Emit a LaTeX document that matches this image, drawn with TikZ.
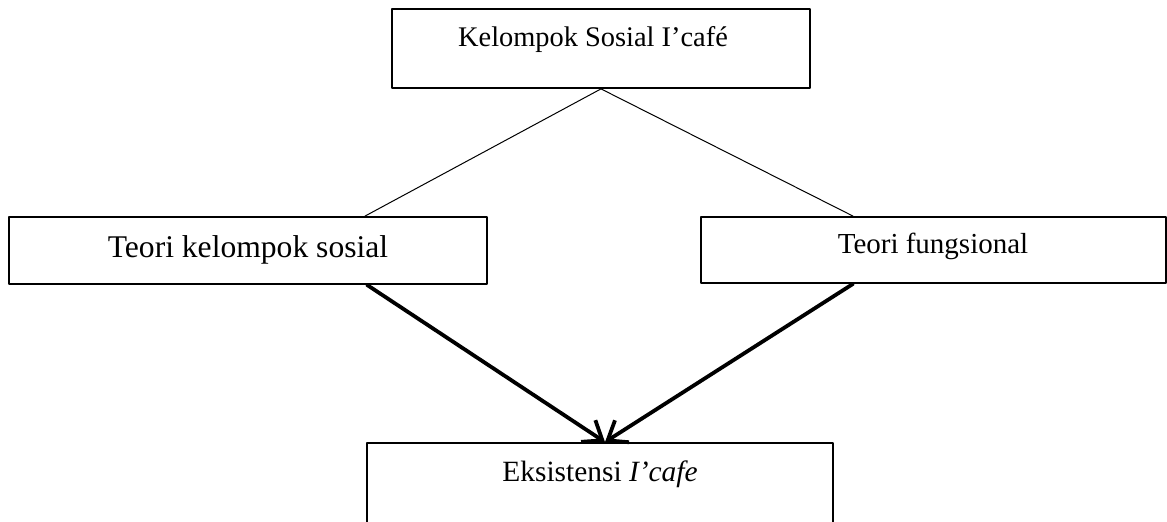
\documentclass[tikz,border=0pt]{standalone}
\usepackage{fontspec}
\setmainfont{Liberation Serif}
\usetikzlibrary{arrows.meta}

\tikzset{
  kotak/.style={draw, line width=0.9pt, inner sep=0pt},
  teks/.style={anchor=base, inner sep=0pt},
  garis/.style={line width=0.5pt},
  panah/.style={->, line width=1.9pt}
}

\begin{document}
\begin{tikzpicture}[line cap=round,line join=round,>={Straight Barb[length=8.5pt,width=13pt]},x=0.5pt,y=-0.5pt]
\useasboundingbox (0,0) rectangle (1167,522);
\clip (0,0) rectangle (1167,522);
% kotak
\node[kotak, minimum width=209pt, minimum height=39.5pt] (sosial) at (601,48.5) {};
\node[kotak, minimum width=239pt, minimum height=33.5pt] (kelompok) at (248,250.5) {};
\node[kotak, minimum width=232.5pt, minimum height=33pt] (fungsi) at (933.5,250) {};
\node[kotak, minimum width=233pt, minimum height=48.5pt] (eksis) at (600,491.5) {};
% teks
\node[teks, font=\fontsize{14.2}{17}\selectfont] (tsosial) at (593,47) {Kelompok Sosial I’café};
\node[teks, font=\fontsize{15.8}{19}\selectfont] (tkelompok) at (248,258) {Teori kelompok sosial};
\node[teks, font=\fontsize{14.5}{17}\selectfont] (tfungsi) at (933,254) {Teori fungsional};
\node[teks, font=\fontsize{14.7}{17}\selectfont] (teksis) at (600,482) {Eksistensi \textit{I’cafe}};
% garis
\draw[garis] (sosial.south) -- (365,0 |- kelompok.north);
\draw[garis] (sosial.south) -- (853,0 |- fungsi.north);
\draw[panah] (367,0 |- kelompok.south) -- (605,0 |- eksis.north);
\draw[panah] (853,0 |- fungsi.south) -- (605,0 |- eksis.north);
\end{tikzpicture}
\end{document}
